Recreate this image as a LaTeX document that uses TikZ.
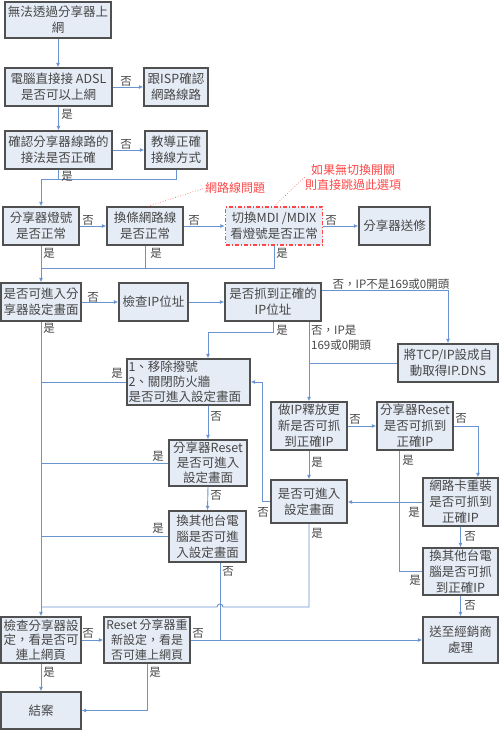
\documentclass[tikz,border=0pt]{standalone}
\usepackage{fontspec}
\setmainfont{Noto Sans CJK TC}
\usetikzlibrary{arrows.meta}
\definecolor{boxfill}{RGB}{230,236,246}
\definecolor{boxline}{RGB}{80,80,80}
\definecolor{connc}{RGB}{105,148,208}
\definecolor{redc}{RGB}{255,70,70}
\definecolor{txt}{RGB}{70,70,70}
\begin{document}
\begin{tikzpicture}[x=1pt,y=-1pt,
 box/.style={draw=boxline, fill=boxfill, line width=1.3pt, inner sep=0pt, align=center,
   font=\fontsize{12.5}{15.8}\selectfont, text=txt},
 redbox/.style={box, draw=redc, dash pattern=on 4pt off 2pt on 1pt off 2pt},
 conn/.style={draw=connc, line width=0.9pt},
 arr/.style={conn, -{Latex[length=4.5pt,width=4pt]}},
 lab/.style={font=\fontsize{11.5}{14}\selectfont, text=txt, inner sep=0pt},
 note/.style={font=\fontsize{12}{15}\selectfont, text=redc, align=center, inner sep=0pt},
 redline/.style={draw=redc, dotted, line width=0.6pt},
]
\useasboundingbox (0,0) rectangle (499,730);

% boxes
\node[box, minimum width=106pt, minimum height=36pt] (n1) at (58,20) {無法透過分享器上\\網};
\node[box, minimum width=107pt, minimum height=38pt] (n2) at (58.5,87) {電腦直接接 ADSL\\是否可以上網};
\node[box, minimum width=64pt, minimum height=38pt] (n3) at (176,87) {跟ISP確認\\網路線路};
\node[box, minimum width=107pt, minimum height=38pt] (n4) at (58.5,150) {確認分享器線路的\\接法是否正確};
\node[box, minimum width=62pt, minimum height=38pt] (n5) at (176,150) {教導正確\\接線方式};
\node[box, minimum width=76pt, minimum height=38pt] (n6) at (41,226) {分享器燈號\\是否正常};
\node[box, minimum width=76pt, minimum height=38pt] (n7) at (145,226) {換條網路線\\是否正常};
\node[redbox, minimum width=97pt, minimum height=38pt] (n8) at (274,226) {切換MDI /MDIX\\看燈號是否正常};
\node[box, minimum width=71pt, minimum height=38pt] (n9) at (394.5,226) {分享器送修};
\node[box, minimum width=80pt, minimum height=38pt] (n10) at (41,302) {是否可進入分\\享器設定畫面};
\node[box, minimum width=69pt, minimum height=38pt] (n11) at (153.5,302) {檢查IP位址};
\node[box, minimum width=96pt, minimum height=38pt] (n12) at (273,302) {是否抓到正確的\\IP位址};
\node[box, minimum width=100pt, minimum height=38pt] (n13) at (448,363) {將TCP/IP設成自\\動取得IP.DNS};
\node[box, minimum width=123pt, minimum height=46pt, align=left, text width=120pt, font=\fontsize{12.5}{14.8}\selectfont] (n14) at (188.5,382) {1、移除撥號\\2、關閉防火牆\\是否可進入設定畫面};
\node[box, minimum width=78pt, minimum height=46pt, font=\fontsize{12.5}{14.8}\selectfont] (n15) at (208,463) {分享器Reset\\是否可進入\\設定畫面};
\node[box, minimum width=77pt, minimum height=51pt] (n16) at (207.5,536.5) {換其他台電\\腦是否可進\\入設定畫面};
\node[box, minimum width=76pt, minimum height=48pt] (n17) at (309,426) {做IP釋放更\\新是否可抓\\到正確IP};
\node[box, minimum width=76pt, minimum height=48pt] (n18) at (415,426) {分享器Reset\\是否可抓到\\正確IP};
\node[box, minimum width=76pt, minimum height=43pt] (n19) at (309,501.5) {是否可進入\\設定畫面};
\node[box, minimum width=75pt, minimum height=48pt] (n20) at (460.5,502) {網路卡重裝\\是否可抓到\\正確IP};
\node[box, minimum width=75pt, minimum height=47pt] (n21) at (460.5,571.5) {換其他台電\\腦是否可抓\\到正確IP};
\node[box, minimum width=75pt, minimum height=46pt] (n22) at (460.5,640) {送至經銷商\\處理};
\node[box, minimum width=80pt, minimum height=46pt, font=\fontsize{12.5}{14.8}\selectfont] (n23) at (41,640) {檢查分享器設\\定，看是否可\\連上網頁};
\node[box, minimum width=86pt, minimum height=46pt, font=\fontsize{12}{14.8}\selectfont] (n24) at (147,640) {Reset 分享器重\\新設定，看是\\否可連上網頁};
\node[box, minimum width=80pt, minimum height=37pt] (n25) at (41,710.5) {結案};

% red notes
\node[note] (m1) at (235,188) {網路線問題};
\node[note] (m2) at (353,177) {如果無切換開關\\則直接跳過此選項};
\draw[redline] ([xshift=3pt]n7.north) -- (m1.west);
\draw[redline] (n8.north) -- (m2.west);

% junctions
\coordinate (j1) at (41,179);
\coordinate (j2) at (41,268);

% connectors
\draw[arr] (n1.south) -- (n1.south |- n2.north);
\draw[arr] (n2.east) -- (n3.west);
\draw[arr] (n2.south) -- (n4.north);
\draw[arr] (n4.east) -- (n5.west);
\draw[conn] (n5.south) |- (j1);
\draw[conn] (n4.south) -- (n4.south |- j1);
\draw[arr] (j1) -- (n6.north);
\draw[arr] (n6.east) -- (n7.west);
\draw[arr] (n7.east) -- (n8.west);
\draw[arr] (n8.east) -- (n9.west);
\draw[conn] (n8.south) |- (j2);
\draw[conn] (n7.south) -- (n7.south |- j2);
\draw[arr] (n6.south) -- (n10.north);
\draw[arr] (n10.east) -- (n11.west);
\draw[arr] (n11.east) -- (n12.west);
\draw[arr] ([yshift=-8pt]n12.north east) -| (n13.north);
\draw[arr] (n12.south) -- ++(0,11) -| ([xshift=19.5pt]n14.north);
\draw[arr] (n17.north |- n12.south) -- (n17.north);
\draw[conn] (n13.west) -- (n17.north |- n13.west);
\draw[arr] (n10.south) -- (n23.north);
\draw[conn] (n14.west) -- (n10.south |- n14.west);
\draw[conn] (n15.west) -- (n10.south |- n15.west);
\draw[conn] (n16.west) -- (n10.south |- n16.west);
\draw[arr] (n15.north |- n14.south) -- (n15.north);
\draw[arr] (n15.south) -- (n16.north);
\draw[conn] (n19.south) -- (309,607) -- (223,607) arc (0:-180:3) -- (41,607);
\draw[conn] ([xshift=12.5pt]n16.south) -- (220,640);
\draw[arr] (n24.east) -- (n22.west);
\draw[arr] (n19.west) -- (262,501.5) |- (n14.east);
\draw[arr] (n17.east) -- (n18.west);
\draw[arr] (n17.south) -- (n19.north);
\draw[arr] (n18.east) -| ([xshift=17.5pt]n20.north);
\draw[conn] ([xshift=-16pt]n18.south) |- (n21.west);
\draw[arr] (n20.west) -- (n20.west -| n19.east);
\draw[arr] (n20.south) -- (n21.north);
\draw[arr] (n21.south) -- (n22.north);
\draw[arr] (n23.east) -- (n24.west);
\draw[arr] (n23.south) -- (n25.north);
\draw[arr] (n24.south) |- (n25.east);

% labels
\node[lab] (l1) at (126,81) {否};
\node[lab] (l2) at (67,114) {是};
\node[lab] (l3) at (126,144) {否};
\node[lab] (l4) at (67,176) {是};
\node[lab] (l5) at (88,220) {否};
\node[lab] (l6) at (194,220) {否};
\node[lab] (l7) at (331,220) {否};
\node[lab] (l8) at (49,253) {是};
\node[lab] (l9) at (156,253) {是};
\node[lab] (l10) at (282,253) {是};
\node[lab] (l11) at (93,297) {否};
\node[lab] (l12) at (391,284) {否，IP不是169或0開頭};
\node[lab] (l13) at (282,330) {是};
\node[lab, anchor=west] (l14) at (311,330) {否，IP是};
\node[lab, anchor=west] (l15) at (311,345) {169或0開頭};
\node[lab] (l16) at (49,328) {是};
\node[lab] (l17) at (117,373) {是};
\node[lab] (l18) at (158,456) {是};
\node[lab] (l19) at (158,528) {是};
\node[lab] (l20) at (216,416) {否};
\node[lab] (l21) at (216,495) {否};
\node[lab] (l22) at (355,419) {否};
\node[lab] (l23) at (461,418) {否};
\node[lab] (l24) at (317,462) {是};
\node[lab] (l25) at (408,460) {是};
\node[lab] (l26) at (263,512) {否};
\node[lab] (l27) at (414,512) {是};
\node[lab] (l28) at (317,533) {是};
\node[lab] (l29) at (470,536) {否};
\node[lab] (l30) at (228,571) {否};
\node[lab] (l31) at (415,580) {是};
\node[lab] (l32) at (470,605) {否};
\node[lab] (l33) at (88,633) {否};
\node[lab] (l34) at (198,633) {否};
\node[lab] (l35) at (49,672) {是};
\node[lab] (l36) at (155,672) {是};
\end{tikzpicture}
\end{document}
